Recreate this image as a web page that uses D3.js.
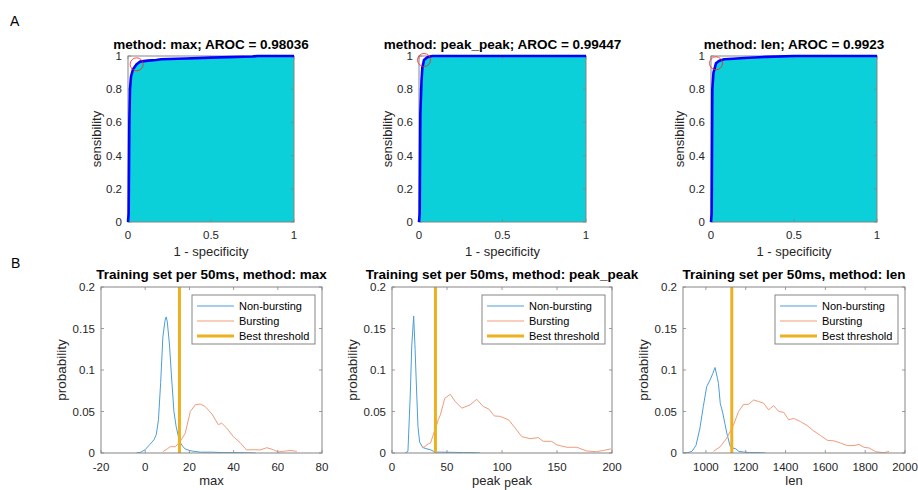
<!DOCTYPE html>
<html>
<head>
<meta charset="utf-8">
<script src="https://cdn.jsdelivr.net/npm/d3@7"></script>
<style>
  html, body { margin: 0; padding: 0; background: #fff; }
  svg { display: block; font-family: "Liberation Sans", Arial, sans-serif; }
</style>
</head>
<body>
<svg id="chart" width="918" height="490"></svg>
<script>
// ---------------- DATA ----------------
const rocTitles = ["method: max; AROC = 0.98036", "method: peak_peak; AROC = 0.99447", "method: len; AROC = 0.9923"];
const rocTicksX = [0, 0.5, 1];
const rocTicksY = [0, 0.2, 0.4, 0.6, 0.8, 1];

const rocMaxFpr = [0, 0.004, 0.008, 0.012, 0.018, 0.03, 0.052, 0.072, 0.12, 0.17, 0.2, 0.35, 0.5, 0.75, 0.78, 1];
const rocMaxTpr = [0, 0.05, 0.6, 0.8, 0.875, 0.92, 0.95, 0.966, 0.972, 0.976, 0.98, 0.985, 0.99, 0.997, 1, 1];
const rocPPFpr = [0, 0.004, 0.008, 0.015, 0.02, 0.03, 0.05, 0.08, 1];
const rocPPTpr = [0, 0.05, 0.65, 0.85, 0.93, 0.976, 0.993, 1, 1];
const rocLenFpr = [0, 0.004, 0.008, 0.015, 0.03, 0.05, 0.08, 0.134, 0.2, 0.335, 0.5, 1];
const rocLenTpr = [0, 0.05, 0.8, 0.9, 0.956, 0.972, 0.98, 0.983, 0.988, 0.995, 1, 1];
const bestFpr = [0.052, 0.03, 0.03];
const bestTpr = [0.95, 0.976, 0.956];

const histTitles = ["Training set per 50ms, method: max", "Training set per 50ms, method: peak_peak", "Training set per 50ms, method: len"];
const histXLabels = ["max", "peak_peak", "len"];
const histDomains = [[-20, 80], [0, 200], [885, 2000]];
const histTicksX = [[-20, 0, 20, 40, 60, 80], [0, 50, 100, 150, 200], [1000, 1200, 1400, 1600, 1800, 2000]];
const histTicksY = [0, 0.05, 0.1, 0.15, 0.2];
const legendLabels = ["Non-bursting", "Bursting", "Best threshold"];
const thresholds = [15.5, 39.5, 1130];

const nbMaxX = [-4, -2, 0, 2, 3, 4, 5, 6, 7, 8, 9, 9.5, 10, 11, 12, 13, 14, 15, 16, 17, 18, 20, 22, 25, 30, 35, 40, 45, 50];
const nbMaxY = [0, 0.001, 0.004, 0.01, 0.013, 0.016, 0.022, 0.04, 0.085, 0.14, 0.16, 0.164, 0.158, 0.13, 0.088, 0.05, 0.032, 0.02, 0.012, 0.008, 0.005, 0.003, 0.002, 0.001, 0.001, 0.0005, 0.0005, 0.0003, 0];
const bMaxX = [8, 10, 11.3, 13.6, 15.8, 18.1, 20.4, 22.6, 24.9, 27.1, 30.2, 33.1, 34.6, 36.9, 39.9, 42.9, 45.9, 48.9, 51.9, 55, 58, 60.2, 62.5, 65.5, 68.6];
const bMaxY = [0.0016, 0.005, 0.0076, 0.0076, 0.0137, 0.0237, 0.05, 0.058, 0.059, 0.056, 0.047, 0.034, 0.036, 0.03, 0.0197, 0.0126, 0.0036, 0.004, 0.0036, 0.0064, 0.004, 0.0012, 0.002, 0.003, 0.002];

const nbPPX = [12, 14.5, 16.6, 18, 19.7, 21, 22, 23.6, 25.1, 28.1, 31.8, 34.8, 37.8, 40.9, 45, 55, 65, 75, 80];
const nbPPY = [0, 0.002, 0.07, 0.13, 0.165, 0.125, 0.088, 0.032, 0.013, 0.0065, 0.005, 0.004, 0.002, 0.001, 0.001, 0.0008, 0.0005, 0.0005, 0];
const bPPX = [27, 29, 33, 35, 38, 40, 42, 44, 48, 53, 57.5, 63.5, 71, 77, 83, 88, 93, 98, 106, 112, 118, 125.5, 133, 137.5, 145, 150, 159, 168, 177, 186, 192, 199];
const bPPY = [0.0076, 0.007, 0.011, 0.012, 0.024, 0.031, 0.04, 0.046, 0.066, 0.0707, 0.062, 0.054, 0.058, 0.0647, 0.056, 0.053, 0.0446, 0.0442, 0.04, 0.03, 0.0197, 0.0173, 0.0185, 0.0141, 0.0141, 0.0097, 0.0069, 0.0069, 0.0024, 0.0016, 0.003, 0.005];

const nbLenX = [885, 910, 930, 950, 970, 987, 1004, 1021, 1035, 1046, 1058, 1063, 1072, 1085, 1095, 1105, 1122, 1135, 1150, 1165, 1189, 1220, 1260, 1300];
const nbLenY = [0, 0.0005, 0.002, 0.009, 0.03, 0.056, 0.08, 0.088, 0.096, 0.103, 0.09, 0.084, 0.06, 0.048, 0.036, 0.024, 0.008, 0.006, 0.005, 0.002, 0.0012, 0.0005, 0.0005, 0];
const bLenX = [1038, 1072, 1105, 1139, 1164, 1189, 1214, 1240, 1265, 1290, 1315, 1340, 1366, 1391, 1416, 1441, 1475, 1509, 1542, 1576, 1610, 1643, 1677, 1710, 1744, 1769, 1794, 1820, 1853, 1895, 1920];
const bLenY = [0.002, 0.0076, 0.018, 0.034, 0.05, 0.0586, 0.0586, 0.0639, 0.062, 0.06, 0.052, 0.057, 0.05, 0.049, 0.04, 0.0417, 0.0378, 0.033, 0.0265, 0.021, 0.0153, 0.0146, 0.012, 0.0089, 0.009, 0.0103, 0.0069, 0.006, 0.0016, 0.0003, 0.002];

// --------------- STYLE / LAYOUT ---------------
const C = {
  fill: "#0bcfd9", roc: "#0000ff", best: "#ff2020",
  blue: "#4a9ed8", orange: "#ef9c7c", thr: "#EDB120",
  axis: "#858585", text: "#262626"
};
const rocPanels = [
  {x0: 128, x1: 294, fpr: rocMaxFpr, tpr: rocMaxTpr},
  {x0: 419, x1: 586, fpr: rocPPFpr, tpr: rocPPTpr},
  {x0: 711, x1: 877, fpr: rocLenFpr, tpr: rocLenTpr}
];
const rocTop = 56, rocBottom = 222;
const histPanels = [
  {x0: 101, x1: 322, nbx: nbMaxX, nby: nbMaxY, bx: bMaxX, by: bMaxY},
  {x0: 392, x1: 612, nbx: nbPPX, nby: nbPPY, bx: bPPX, by: bPPY},
  {x0: 683, x1: 905, nbx: nbLenX, nby: nbLenY, bx: bLenX, by: bLenY}
];
const histTop = 287, histBottom = 453;

const svg = d3.select("#chart");

function frame(g, x, y, ticksX, ticksY, fmtX, fmtY, xLabDy) {
  const [xa, xb] = x.range(), [yb, ya] = y.range();
  const tl = 3;
  const tk = g.append("g").attr("stroke", C.axis).attr("stroke-width", 0.8);
  ticksX.forEach(t => {
    tk.append("line").attr("x1", x(t)).attr("x2", x(t)).attr("y1", yb).attr("y2", yb - tl);
    tk.append("line").attr("x1", x(t)).attr("x2", x(t)).attr("y1", ya).attr("y2", ya + tl);
  });
  ticksY.forEach(t => {
    tk.append("line").attr("x1", xa).attr("x2", xa + tl).attr("y1", y(t)).attr("y2", y(t));
    tk.append("line").attr("x1", xb).attr("x2", xb - tl).attr("y1", y(t)).attr("y2", y(t));
  });
  g.append("rect").attr("x", xa).attr("y", ya).attr("width", xb - xa).attr("height", yb - ya)
    .attr("fill", "none").attr("stroke", C.axis).attr("stroke-width", 1);
  const lab = g.append("g").attr("fill", C.text).attr("font-size", 11.5);
  ticksX.forEach(t => {
    lab.append("text").attr("x", x(t)).attr("y", yb + xLabDy).attr("text-anchor", "middle").text(fmtX(t));
  });
  ticksY.forEach(t => {
    lab.append("text").attr("x", xa - 6).attr("y", y(t) + 4).attr("text-anchor", "end").text(fmtY(t));
  });
}

const fmt = d => (d < 0 ? "-" : "") + d3.format("~g")(Math.abs(d));

// ---- Panel letters ----
svg.append("text").attr("x", 10).attr("y", 26).attr("font-size", 14).attr("fill", "#000").text("A");
svg.append("text").attr("x", 11).attr("y", 268).attr("font-size", 14).attr("fill", "#000").text("B");

// ---- ROC panels ----
rocPanels.forEach((p, i) => {
  const g = svg.append("g");
  const x = d3.scaleLinear().domain([0, 1]).range([p.x0, p.x1]);
  const y = d3.scaleLinear().domain([0, 1]).range([rocBottom, rocTop]);
  const pts = p.fpr.map((f, k) => [f, p.tpr[k]]);
  g.append("path").datum(pts)
    .attr("d", d3.area().x(d => x(d[0])).y0(y(0)).y1(d => y(d[1])))
    .attr("fill", C.fill);
  frame(g, x, y, rocTicksX, rocTicksY, fmt, fmt, 17);
  g.append("path").datum(pts)
    .attr("d", d3.line().x(d => x(d[0])).y(d => y(d[1])))
    .attr("fill", "none").attr("stroke", C.roc).attr("stroke-width", 2.6).attr("stroke-linejoin", "round");
  g.append("circle").attr("cx", x(bestFpr[i])).attr("cy", y(bestTpr[i])).attr("r", 6.5)
    .attr("fill", "none").attr("stroke", C.best).attr("stroke-width", 0.8);
  const cx = (p.x0 + p.x1) / 2;
  g.append("text").attr("x", cx).attr("y", 48.5).attr("text-anchor", "middle")
    .attr("font-size", 13.5).attr("font-weight", "bold").attr("fill", "#000").text(rocTitles[i]);
  g.append("text").attr("x", cx).attr("y", 256).attr("text-anchor", "middle")
    .attr("font-size", 13).attr("fill", C.text).text("1 - specificity");
  g.append("text").attr("transform", `translate(${p.x0 - 27},${(rocTop + rocBottom) / 2}) rotate(-90)`)
    .attr("text-anchor", "middle").attr("font-size", 13).attr("fill", C.text).text("sensibility");
});

// ---- Histogram panels ----
histPanels.forEach((p, i) => {
  const g = svg.append("g");
  const x = d3.scaleLinear().domain(histDomains[i]).range([p.x0, p.x1]);
  const y = d3.scaleLinear().domain([0, 0.2]).range([histBottom, histTop]);
  const clipId = "clip" + i;
  g.append("clipPath").attr("id", clipId).append("rect")
    .attr("x", p.x0).attr("y", histTop).attr("width", p.x1 - p.x0).attr("height", histBottom - histTop);
  const line = d3.line().x(d => x(d[0])).y(d => y(d[1]));
  const dg = g.append("g").attr("clip-path", `url(#${clipId})`);
  dg.append("path").datum(p.nbx.map((v, k) => [v, p.nby[k]])).attr("d", line)
    .attr("fill", "none").attr("stroke", C.blue).attr("stroke-width", 1);
  dg.append("path").datum(p.bx.map((v, k) => [v, p.by[k]])).attr("d", line)
    .attr("fill", "none").attr("stroke", C.orange).attr("stroke-width", 1);
  dg.append("line").attr("x1", x(thresholds[i])).attr("x2", x(thresholds[i]))
    .attr("y1", histTop).attr("y2", histBottom).attr("stroke", C.thr).attr("stroke-width", 3);
  frame(g, x, y, histTicksX[i], histTicksY, fmt, fmt, 18);

  const cx = (p.x0 + p.x1) / 2;
  g.append("text").attr("x", cx).attr("y", 279).attr("text-anchor", "middle")
    .attr("font-size", 13.5).attr("font-weight", "bold").attr("fill", "#000").text(histTitles[i]);
  const xl = g.append("text").attr("x", cx).attr("y", 485).attr("text-anchor", "middle")
    .attr("font-size", 13).attr("fill", C.text);
  const parts = histXLabels[i].split("_");
  if (parts.length === 2) {
    xl.append("tspan").text(parts[0]);
    xl.append("tspan").attr("dx", 4).attr("dy", 1.5).attr("font-size", 12).text(parts[1][0]);
    xl.append("tspan").attr("dy", -1.5).text(parts[1].slice(1));
  } else {
    xl.text(histXLabels[i]);
  }
  g.append("text").attr("transform", `translate(${p.x0 - 35},${(histTop + histBottom) / 2}) rotate(-90)`)
    .attr("text-anchor", "middle").attr("font-size", 13.5).attr("fill", C.text).text("probability");

  // legend
  const lw = 123, lh = 49, lx = p.x1 - 7 - lw, ly = histTop + 8;
  const lg = g.append("g");
  lg.append("rect").attr("x", lx).attr("y", ly).attr("width", lw).attr("height", lh)
    .attr("fill", "#fff").attr("stroke", C.axis).attr("stroke-width", 1);
  const cols = [C.blue, C.orange, C.thr], ws = [1, 1, 3];
  legendLabels.forEach((t, k) => {
    const yy = ly + 11 + k * 15;
    lg.append("line").attr("x1", lx + 5).attr("x2", lx + 42).attr("y1", yy).attr("y2", yy)
      .attr("stroke", cols[k]).attr("stroke-width", ws[k]);
    lg.append("text").attr("x", lx + 47).attr("y", yy + 4).attr("font-size", 11)
      .attr("fill", "#000").text(t);
  });
});
</script>
</body>
</html>
